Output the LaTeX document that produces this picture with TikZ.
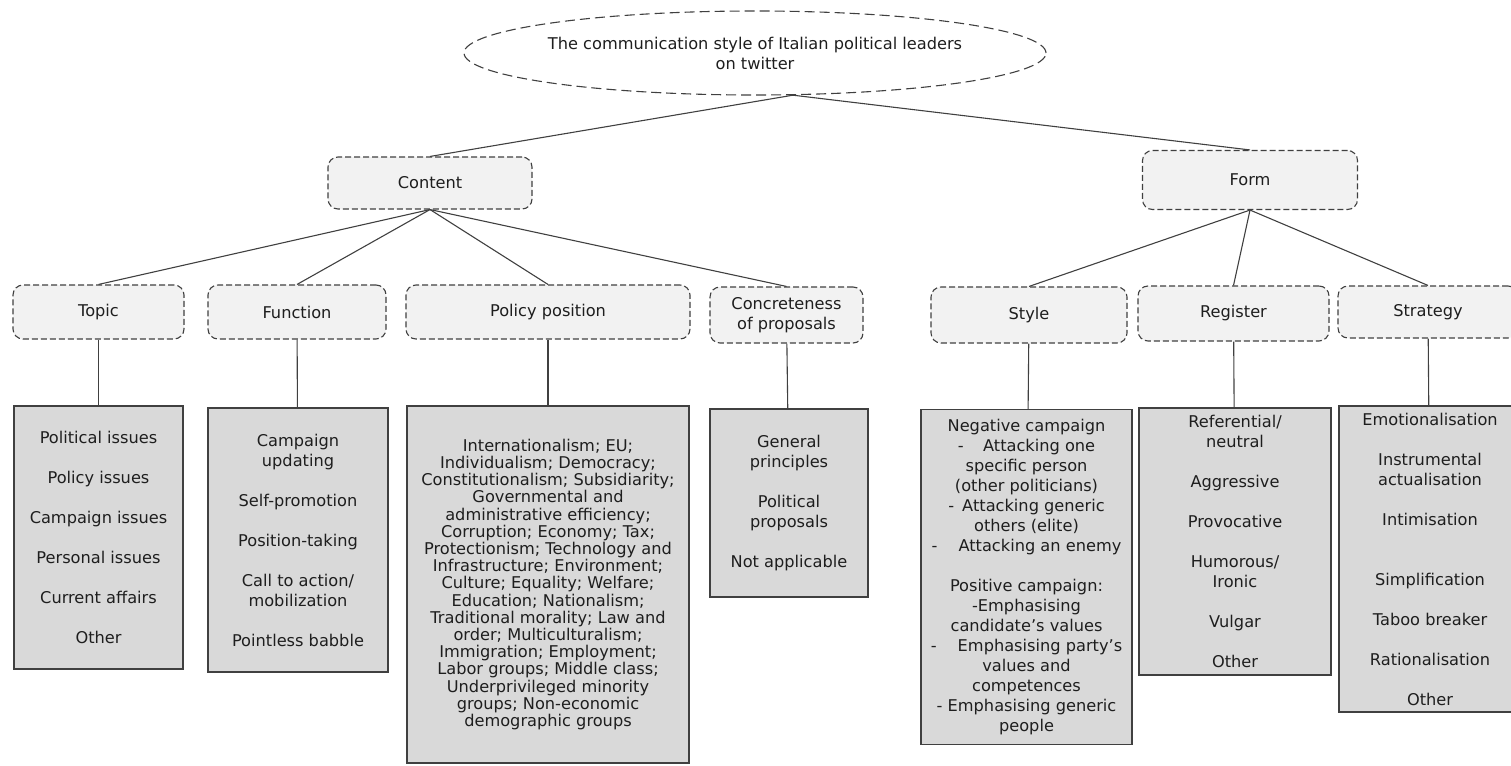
\documentclass[tikz,border=0pt]{standalone}
\usepackage{fontspec}
\setmainfont{DejaVu Sans}
\usetikzlibrary{shapes.geometric}
\definecolor{catfill}{HTML}{F2F2F2}
\definecolor{listfill}{HTML}{D9D9D9}
\definecolor{edgegray}{HTML}{404040}
\definecolor{textgray}{HTML}{1E1E1E}
\tikzset{
	basefont/.style={font=\fontsize{16.2}{20}\selectfont, text=textgray}
}
\tikzset{
	catbox/.style={draw=edgegray, line width=1.1pt, dash pattern=on 6pt off 3pt,
		rounded corners=10pt, fill=catfill, align=center, inner sep=2pt, basefont},
	listbox/.style={draw=edgegray, line width=1.1pt, fill=listfill, align=center,
		inner sep=2pt, basefont},
	link/.style={draw=edgegray, line width=1.1pt}
}
\newcommand{\dashgap}[1]{-\hspace{#1}}

\begin{document}
\begin{tikzpicture}[x=1pt, y=-1pt]
      \useasboundingbox (0,0) rectangle (1511,765);
      \node[ellipse, draw=edgegray, line width=1.1pt, dash pattern=on 10pt off 5pt,
        minimum width=582pt, minimum height=84pt] (title) at (755,53) {};
      \node[basefont, align=center] (titletext) at (title) {The communication style of Italian political leaders\\on twitter};
      \coordinate (apex) at (title.-48);

      \node[catbox, minimum width=204pt, minimum height=52pt] (content) at (430,183) {Content};
      \node[catbox, minimum width=215pt, minimum height=59pt] (form) at (1250,180) {Form};

      \node[catbox, minimum width=171pt, minimum height=54pt] (topic) at (98.5,312) {Topic};
      \node[catbox, minimum width=178pt, minimum height=54pt] (function) at (297,312) {Function};
      \node[catbox, minimum width=284pt, minimum height=54pt] (policy) at (548,312) {Policy position};
      \node[catbox, minimum width=153pt, minimum height=56pt] (concrete) at (786.5,315) {Concreteness\\of proposals};
      \node[catbox, minimum width=196pt, minimum height=56pt] (style) at (1029,315) {Style};
      \node[catbox, minimum width=191pt, minimum height=55pt] (register) at (1233.5,313.5) {Register};
      \node[catbox, minimum width=180pt, minimum height=52pt] (strategy) at (1428,312) {Strategy};

      \node[listbox, minimum width=169pt, minimum height=263pt] (topiclist) at (98.5,537.5)
        {Political issues\\[20pt]Policy issues\\[20pt]Campaign issues\\[20pt]Personal issues\\[20pt]Current affairs\\[20pt]Other};
      \node[listbox, minimum width=180pt, minimum height=264pt] (functionlist) at (298,540)
        {Campaign\\updating\\[20pt]Self-promotion\\[20pt]Position-taking\\[20pt]Call to action/\\mobilization\\[20pt]Pointless babble};
      \node[listbox, minimum width=282pt, minimum height=357pt, font=\fontsize{16.2}{17.2}\selectfont] (policylist) at (548,584.5)
        {Internationalism; EU;\\Individualism; Democracy;\\Constitutionalism; Subsidiarity;\\Governmental and\\administrative efficiency;\\Corruption; Economy; Tax;\\Protectionism; Technology and\\Infrastructure; Environment;\\Culture; Equality; Welfare;\\Education; Nationalism;\\Traditional morality; Law and\\order; Multiculturalism;\\Immigration; Employment;\\Labor groups; Middle class;\\Underprivileged minority\\groups; Non-economic\\demographic groups};
      \node[listbox, minimum width=158pt, minimum height=188pt] (concretelist) at (789,503)
        {General\\principles\\[20pt]Political\\proposals\\[20pt]Not applicable};
      \node[listbox, minimum width=211pt, minimum height=335pt] (stylelist) at (1026.5,577)
        {Negative campaign\\\dashgap{1.2em}Attacking one\\specific person\\(other politicians)\\\dashgap{0.5em}Attacking generic\\others (elite)\\\dashgap{1.3em}Attacking an enemy\\[20pt]Positive campaign:\\-Emphasising\\candidate’s values\\\dashgap{1.3em}Emphasising party’s\\values and\\competences\\- Emphasising generic\\people};
      \node[listbox, minimum width=192pt, minimum height=267pt] (registerlist) at (1235,541.5)
        {Referential/\\neutral\\[20pt]Aggressive\\[20pt]Provocative\\[20pt]Humorous/\\Ironic\\[20pt]Vulgar\\[20pt]Other};
      \node[listbox, minimum width=182pt, minimum height=306pt] (strategylist) at (1430,559)
        {Emotionalisation\\[20pt]Instrumental\\actualisation\\[20pt]Intimisation\\[40pt]Simplification\\[20pt]Taboo breaker\\[20pt]Rationalisation\\[20pt]Other};

      \draw[link] (apex) -- (content.north);
      \draw[link] (apex) -- (form.north);
      \draw[link] (content.south) -- (topic.north);
      \draw[link] (content.south) -- (function.north);
      \draw[link] (content.south) -- (policy.north);
      \draw[link] (content.south) -- (concrete.north);
      \draw[link] (form.south) -- (style.north);
      \draw[link] (form.south) -- (register.north);
      \draw[link] (form.south) -- (strategy.north);
      \draw[link] (topic) -- (topiclist);
      \draw[link] (function) -- (functionlist);
      \draw[link] (policy) -- (policylist);
      \draw[link] (concrete) -- (concretelist);
      \draw[link] (style) -- (stylelist);
      \draw[link] (register) -- (registerlist);
      \draw[link] (strategy) -- (strategylist);
    \end{tikzpicture}
\end{document}
